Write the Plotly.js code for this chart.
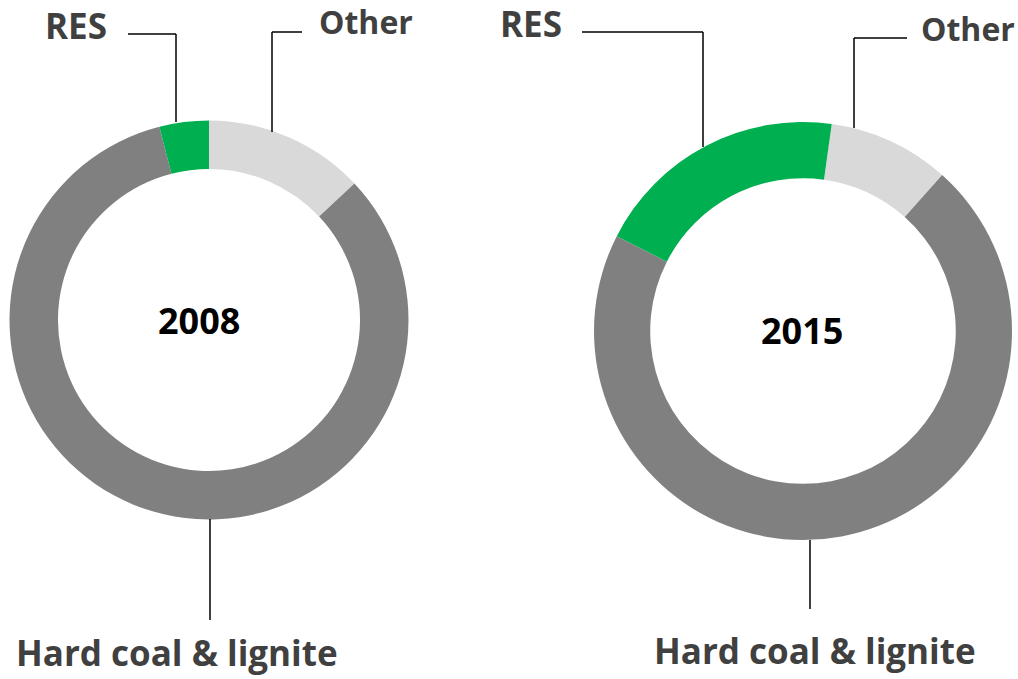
<!DOCTYPE html>
<html>
<head>
<meta charset="utf-8">
<script src="https://cdn.plot.ly/plotly-3.0.1.min.js"></script>
<style>html,body{margin:0;padding:0;background:#fff;}#chart{width:1018px;height:679px;}</style>
</head>
<body>
<div id="chart"></div>
<script>
// Data (shares of generation, %)
const categories = ["Other", "Hard coal & lignite", "RES"];
const values2008 = [13.0, 83.0, 4.0];
const values2015 = [9.4, 70.9, 19.7];
const years = ["2008", "2015"];
const colors = ["#D9D9D9", "#808080", "#00B050"];

const W = 1018, H = 679;
const px = x => x / W;
const py = y => 1 - y / H;

const fam = "Open Sans, Lato, sans-serif";
const labelFont = {family: fam, size: 35, color: "#404040", weight: 700};
const otherFont = {family: fam, size: 32, color: "#404040", weight: 700};
const yearFont = {family: fam, size: 36, color: "#000000", weight: 700};

const pieBase = {
  type: "pie",
  labels: categories,
  sort: false,
  direction: "clockwise",
  textinfo: "none",
  hoverinfo: "label+percent",
  showlegend: false,
  marker: {colors: colors, line: {width: 0}}
};

const traces = [
  Object.assign({}, pieBase, {
    values: values2008, hole: 0.757, rotation: 0,
    domain: {x: [px(9.5), px(408.5)], y: [py(519.5), py(120.5)]}
  }),
  Object.assign({}, pieBase, {
    values: values2015, hole: 0.731, rotation: 7.9,
    domain: {x: [px(594), px(1012)], y: [py(540), py(122)]}
  })
];

function ann(text, x, y, font) {
  return {text: "<b>" + text + "</b>", x: px(x), y: py(y), xref: "paper", yref: "paper",
          xanchor: "center", yanchor: "middle", showarrow: false, font: font};
}
const annotations = [
  ann(categories[2], 76, 26, labelFont),
  ann(categories[0], 366, 22, otherFont),
  ann(categories[1], 177, 652, labelFont),
  ann(categories[2], 531, 24, labelFont),
  ann(categories[0], 968, 29, otherFont),
  ann(categories[1], 815, 650, labelFont),
  ann(years[0], 199, 320, yearFont),
  ann(years[1], 802, 330, yearFont)
];

function seg(x0, y0, x1, y1) {
  return {type: "line", xref: "paper", yref: "paper", x0: px(x0), y0: py(y0), x1: px(x1), y1: py(y1),
          line: {color: "#000000", width: 1.5}};
}
const shapes = [
  seg(128, 34, 176, 34), seg(176, 34, 176, 122),
  seg(302, 32, 272, 32), seg(272, 32, 272, 132),
  seg(210, 519, 210, 620),
  seg(582, 32, 703, 32), seg(703, 32, 703, 147),
  seg(907, 38, 854, 38), seg(854, 38, 854, 128),
  seg(810, 540, 810, 609)
];

Plotly.newPlot("chart", traces, {
  width: W, height: H,
  margin: {l: 0, r: 0, t: 0, b: 0},
  paper_bgcolor: "#ffffff",
  annotations: annotations,
  shapes: shapes
}, {displayModeBar: false, staticPlot: true});
</script>
</body>
</html>
